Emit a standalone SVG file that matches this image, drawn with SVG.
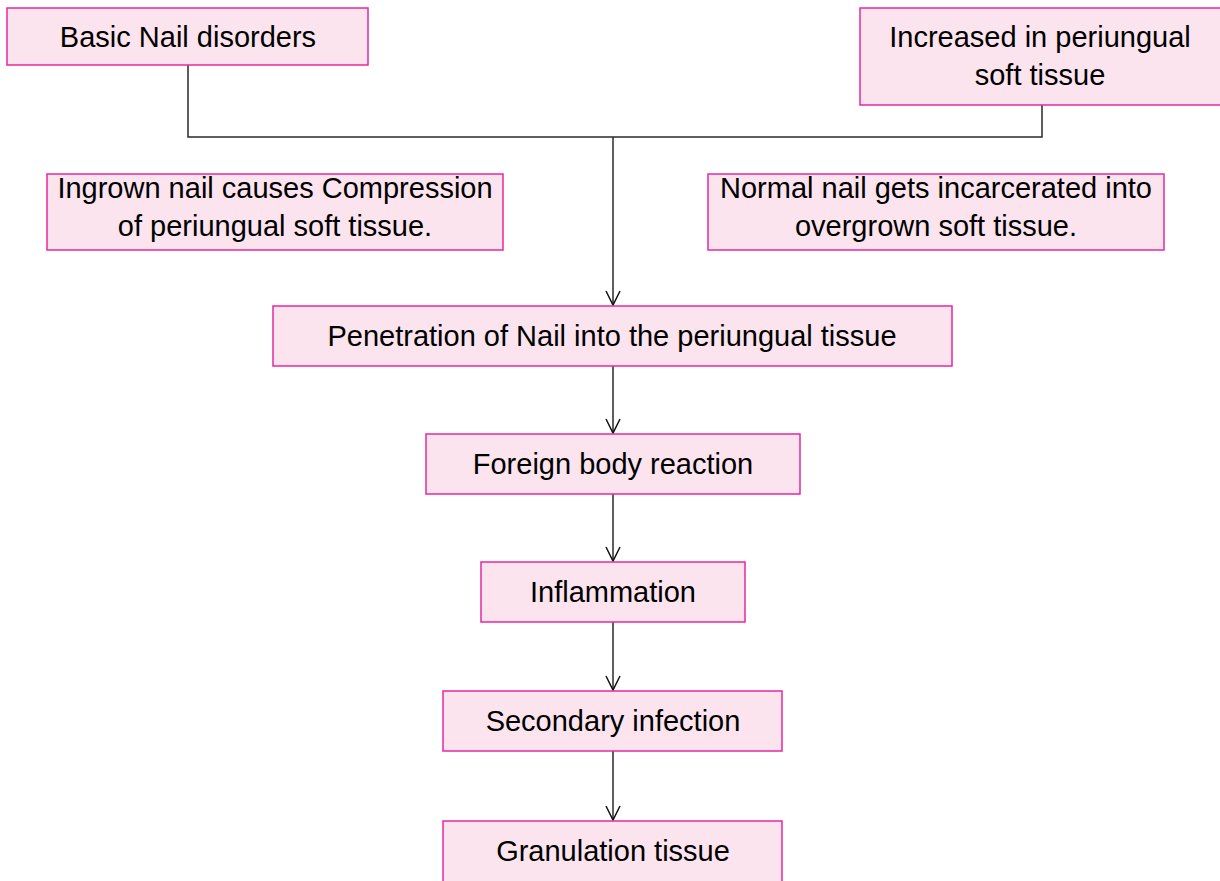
<svg xmlns="http://www.w3.org/2000/svg" width="1220" height="881" viewBox="0 0 1220 881">
<style>
.box{fill:#fce4ee;stroke:#e8289a;stroke-width:1.5}
.t{font-family:"Liberation Sans",Arial,sans-serif;font-size:29px;fill:#000;text-anchor:middle}
.c{fill:none;stroke:#2a2a2a;stroke-width:1.5}
</style>
<defs>
<marker id="ah" markerWidth="18" markerHeight="18" refX="15" refY="9" orient="auto" markerUnits="userSpaceOnUse" viewBox="0 0 18 18">
<path d="M1,2 L15,9 L1,16" fill="none" stroke="#111" stroke-width="1.5"/>
</marker>
</defs>
<rect width="1220" height="881" fill="#fff"/>
<g id="connectors">
<path class="c" d="M188,65 V137 H1042 V105"/>
<path class="c" d="M613,137 V305" marker-end="url(#ah)"/>
<path class="c" d="M613,366 V433" marker-end="url(#ah)"/>
<path class="c" d="M613,494 V561" marker-end="url(#ah)"/>
<path class="c" d="M613,622 V690" marker-end="url(#ah)"/>
<path class="c" d="M613,751 V820" marker-end="url(#ah)"/>
</g>
<g id="n1"><rect class="box" x="7" y="8" width="361" height="57"/><text class="t" x="188" y="47">Basic Nail disorders</text></g>
<g id="n2"><rect class="box" x="860" y="8" width="370" height="97"/><text class="t" x="1040" y="47">Increased in periungual</text><text class="t" x="1040" y="85">soft tissue</text></g>
<g id="n3"><rect class="box" x="47" y="174" width="456" height="76"/><text class="t" x="275" y="198">Ingrown nail causes Compression</text><text class="t" x="275" y="236">of periungual soft tissue.</text></g>
<g id="n4"><rect class="box" x="708" y="174" width="456" height="76"/><text class="t" x="936" y="198">Normal nail gets incarcerated into</text><text class="t" x="936" y="236">overgrown soft tissue.</text></g>
<g id="n5"><rect class="box" x="273" y="306" width="679" height="60"/><text class="t" x="612" y="346">Penetration of Nail into the periungual tissue</text></g>
<g id="n6"><rect class="box" x="426" y="434" width="374" height="60"/><text class="t" x="613" y="474">Foreign body reaction</text></g>
<g id="n7"><rect class="box" x="481" y="562" width="264" height="60"/><text class="t" x="613" y="602">Inflammation</text></g>
<g id="n8"><rect class="box" x="443" y="691" width="339" height="60"/><text class="t" x="613" y="731">Secondary infection</text></g>
<g id="n9"><rect class="box" x="443" y="821" width="339" height="70"/><text class="t" x="613" y="861">Granulation tissue</text></g>
</svg>
